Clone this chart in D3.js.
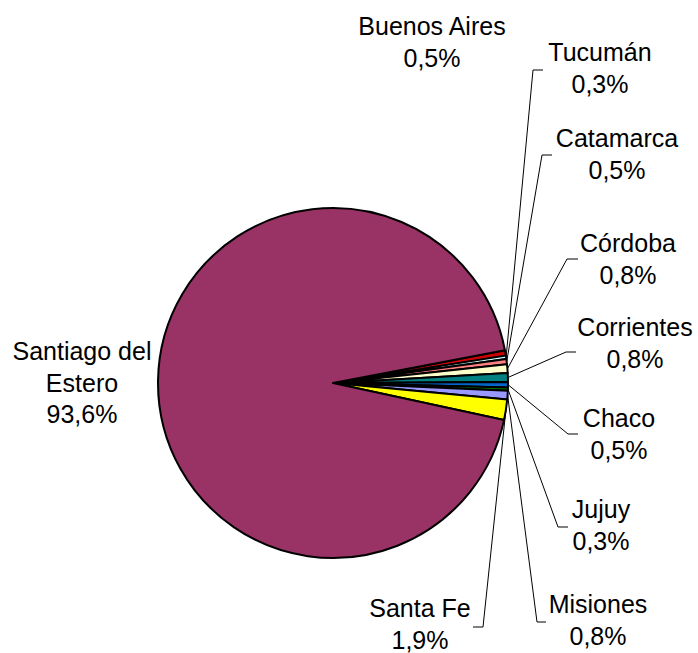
<!DOCTYPE html>
<html>
<head>
<meta charset="utf-8">
<script src="https://cdn.jsdelivr.net/npm/d3@7"></script>
<style>
  body { margin: 0; background: #fff; }
  svg text { font-family: "Liberation Sans", Arial, sans-serif; font-size: 25px; fill: #000; }
</style>
</head>
<body>
<div id="chart"></div>
<script>
// data, in slice order (clockwise from the Buenos Aires edge)
const provinces = ["Buenos Aires", "Tucumán", "Catamarca", "Córdoba", "Corrientes", "Chaco", "Jujuy", "Misiones", "Santa Fe", "Santiago del Estero"];
const shares = [0.5, 0.3, 0.5, 0.8, 0.8, 0.5, 0.3, 0.8, 1.9, 93.6];
const labels = ["0,5%", "0,3%", "0,5%", "0,8%", "0,8%", "0,5%", "0,3%", "0,8%", "1,9%", "93,6%"];
const colors = ["#cc0000", "#ccffff", "#ff8080", "#ffffcc", "#008080", "#0066cc", "#008000", "#9999ff", "#ffff00", "#993366"];

// label layout: text centre x, first baseline y, leader corner (null = no leader), elbow length
const labelPos = [
  {x: 432, y: 35, corner: null},
  {x: 600, y: 61, corner: [533, 70], dx: 10},
  {x: 617, y: 147, corner: [542, 155], dx: 10},
  {x: 628, y: 252, corner: [567, 259], dx: 11},
  {x: 635, y: 336, corner: [566, 352], dx: 10},
  {x: 619, y: 427, corner: [568, 434], dx: 10},
  {x: 601, y: 518, corner: [558, 527], dx: 10},
  {x: 598, y: 613, corner: [537, 622], dx: 9},
  {x: 420, y: 617, corner: [483, 627], dx: -10},
  {x: 82, y: 360, corner: null}
];
const nameLines = {"Santiago del Estero": ["Santiago del", "Estero"]};

const width = 698, height = 653;
const cx = 333, cy = 383, radius = 175;
const lineH = 31.5;

const data = provinces.map((p, i) => ({name: p, value: shares[i], label: labels[i], color: colors[i], pos: labelPos[i]}));

const svg = d3.select("#chart").append("svg")
  .attr("width", width)
  .attr("height", height);

const g = svg.append("g").attr("transform", `translate(${cx},${cy})`);

const start = 79.2 * Math.PI / 180;
const pie = d3.pie().sort(null).value(d => d.value)
  .startAngle(start).endAngle(start + 2 * Math.PI);
const arc = d3.arc().innerRadius(0).outerRadius(radius);
const edge = d3.arc().innerRadius(radius).outerRadius(radius);

const arcs = pie(data);

g.selectAll("path.slice")
  .data(arcs)
  .enter().append("path")
  .attr("class", "slice")
  .attr("d", arc)
  .attr("fill", d => d.data.color)
  .attr("stroke", "#000")
  .attr("stroke-width", 2)
  .attr("stroke-linejoin", "round");

// leader lines
g.selectAll("polyline.leader")
  .data(arcs.filter(d => d.data.pos.corner))
  .enter().append("polyline")
  .attr("class", "leader")
  .attr("fill", "none")
  .attr("stroke", "#000")
  .attr("stroke-width", 1)
  .attr("points", d => {
    const p = edge.centroid(d);
    const c = d.data.pos.corner;
    return [[p[0], p[1]], [c[0] - cx, c[1] - cy], [c[0] - cx + d.data.pos.dx, c[1] - cy]].join(" ");
  });

// labels
svg.selectAll("text.lbl")
  .data(data)
  .enter().append("text")
  .attr("class", "lbl")
  .attr("text-anchor", "middle")
  .each(function(d) {
    const lines = (nameLines[d.name] || [d.name]).concat([d.label]);
    const t = d3.select(this);
    lines.forEach((line, i) => {
      t.append("tspan")
        .attr("x", d.pos.x)
        .attr("y", d.pos.y + i * lineH)
        .text(line);
    });
  });
</script>
</body>
</html>
